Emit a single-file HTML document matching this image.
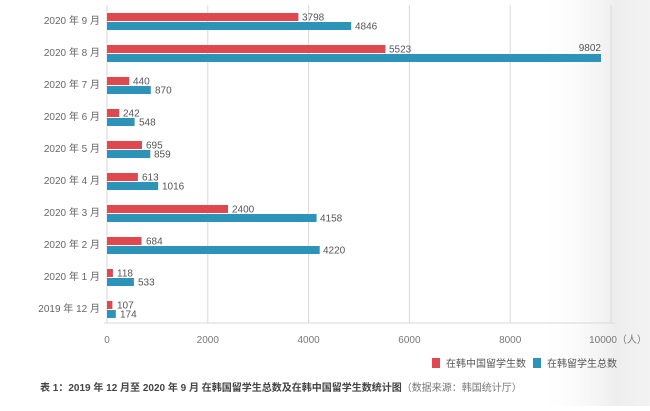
<!DOCTYPE html>
<html><head><meta charset="utf-8"><style>
body{margin:0;background:#fff;}
svg text{font-family:"Liberation Sans","Noto Sans CJK SC",sans-serif;}
</style></head><body>
<svg width="650" height="406" viewBox="0 0 650 406" xmlns="http://www.w3.org/2000/svg">
<defs><linearGradient id="g" x1="0" x2="1" y1="0" y2="0">
<stop offset="0" stop-color="#fff" stop-opacity="0"/><stop offset="0.7" stop-color="#ececec" stop-opacity="0.9"/><stop offset="1" stop-color="#f3f3f3"/></linearGradient></defs>
<rect x="535" y="0" width="115" height="406" fill="url(#g)"/>
<g stroke="#d8d8d8" stroke-width="1">
<line x1="107" y1="5" x2="107" y2="323"/><line x1="207.8" y1="5" x2="207.8" y2="323"/><line x1="308.6" y1="5" x2="308.6" y2="323"/><line x1="409.4" y1="5" x2="409.4" y2="323"/><line x1="510.2" y1="5" x2="510.2" y2="323"/><line x1="611" y1="5" x2="611" y2="323"/>
<line x1="104" y1="323" x2="615" y2="323"/>
</g>
<g font-size="10" fill="#777" text-anchor="middle">
<text x="107" y="343">0</text><text x="207.8" y="343">2000</text><text x="308.6" y="343">4000</text><text x="409.4" y="343">6000</text><text x="510.2" y="343">8000</text><text x="618" y="343">10000（人）</text>
</g>
<g font-size="10" fill="#555">
<rect x="432" y="358" width="8" height="10" fill="#e0474f"/><text x="446" y="367">在韩中国留学生数</text>
<rect x="533" y="358" width="8" height="10" fill="#2e93b8"/><text x="547" y="367">在韩留学生总数</text>
<text x="40" y="391" font-weight="bold" fill="#444">表 1：2019 年 12 月至 2020 年 9 月 在韩国留学生总数及在韩中国留学生数统计图<tspan font-weight="normal" fill="#777">（数据来源：韩国统计厅）</tspan></text>
</g>
<g font-size="10">
<text x="100" y="24" text-anchor="end" fill="#666">2020 年 9 月</text>
<rect x="107" y="13" width="191.4" height="8" fill="#e0474f"/><text x="302" y="20.5" fill="#555">3798</text>
<rect x="107" y="22" width="244.2" height="8" fill="#2e93b8"/><text x="355" y="29.5" fill="#555">4846</text>
<text x="100" y="56" text-anchor="end" fill="#666">2020 年 8 月</text>
<rect x="107" y="45" width="278.4" height="8" fill="#e0474f"/><text x="389" y="52.5" fill="#555">5523</text>
<rect x="107" y="54" width="494" height="8" fill="#2e93b8"/><text x="601" y="51" text-anchor="end" fill="#555">9802</text>
<text x="100" y="88" text-anchor="end" fill="#666">2020 年 7 月</text>
<rect x="107" y="77" width="22.2" height="8" fill="#e0474f"/><text x="133" y="84.5" fill="#555">440</text>
<rect x="107" y="86" width="43.8" height="8" fill="#2e93b8"/><text x="155" y="93.5" fill="#555">870</text>
<text x="100" y="120" text-anchor="end" fill="#666">2020 年 6 月</text>
<rect x="107" y="109" width="12.2" height="8" fill="#e0474f"/><text x="123" y="116.5" fill="#555">242</text>
<rect x="107" y="118" width="27.6" height="8" fill="#2e93b8"/><text x="139" y="125.5" fill="#555">548</text>
<text x="100" y="152" text-anchor="end" fill="#666">2020 年 5 月</text>
<rect x="107" y="141" width="35" height="8" fill="#e0474f"/><text x="146" y="148.5" fill="#555">695</text>
<rect x="107" y="150" width="43.3" height="8" fill="#2e93b8"/><text x="154" y="157.5" fill="#555">859</text>
<text x="100" y="184" text-anchor="end" fill="#666">2020 年 4 月</text>
<rect x="107" y="173" width="30.9" height="8" fill="#e0474f"/><text x="142" y="180.5" fill="#555">613</text>
<rect x="107" y="182" width="51.2" height="8" fill="#2e93b8"/><text x="162" y="189.5" fill="#555">1016</text>
<text x="100" y="216" text-anchor="end" fill="#666">2020 年 3 月</text>
<rect x="107" y="205" width="121" height="8" fill="#e0474f"/><text x="232" y="212.5" fill="#555">2400</text>
<rect x="107" y="214" width="209.6" height="8" fill="#2e93b8"/><text x="320" y="221.5" fill="#555">4158</text>
<text x="100" y="248" text-anchor="end" fill="#666">2020 年 2 月</text>
<rect x="107" y="237" width="34.5" height="8" fill="#e0474f"/><text x="146" y="244.5" fill="#555">684</text>
<rect x="107" y="246" width="212.7" height="8" fill="#2e93b8"/><text x="323" y="253.5" fill="#555">4220</text>
<text x="100" y="280" text-anchor="end" fill="#666">2020 年 1 月</text>
<rect x="107" y="269" width="5.9" height="8" fill="#e0474f"/><text x="117" y="276.5" fill="#555">118</text>
<rect x="107" y="278" width="26.9" height="8" fill="#2e93b8"/><text x="138" y="285.5" fill="#555">533</text>
<text x="100" y="312" text-anchor="end" fill="#666">2019 年 12 月</text>
<rect x="107" y="301" width="5.4" height="8" fill="#e0474f"/><text x="117" y="308.5" fill="#555">107</text>
<rect x="107" y="310" width="8.8" height="8" fill="#2e93b8"/><text x="120" y="317.5" fill="#555">174</text>
</g>
</svg>
</body></html>
